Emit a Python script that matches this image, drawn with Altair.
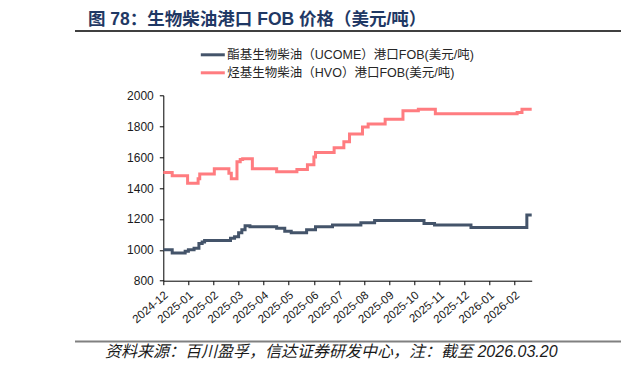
import altair as alt
import pandas as pd

# ---- series: change points of daily FOB port prices (USD/t) ----
ucome_dates = [
    "2024-12-20", "2024-12-31", "2025-01-16", "2025-01-20", "2025-01-27",
    "2025-02-02", "2025-02-06", "2025-02-09", "2025-03-13", "2025-03-18",
    "2025-03-23", "2025-03-27", "2025-03-31", "2025-04-06", "2025-05-09",
    "2025-05-19", "2025-05-27", "2025-06-15", "2025-06-26", "2025-07-17",
    "2025-08-21", "2025-09-07", "2025-11-07", "2025-11-20", "2026-01-04",
    "2026-03-14", "2026-03-20",
]
ucome_values = [
    1000, 980, 990, 1000, 1010,
    1040, 1050, 1060, 1075, 1085,
    1110, 1130, 1155, 1150, 1140,
    1120, 1110, 1130, 1150, 1160,
    1175, 1190, 1170, 1160, 1145,
    1225, 1225,
]

hvo_dates = [
    "2024-12-20", "2024-12-31", "2025-01-19", "2025-02-01", "2025-02-03",
    "2025-02-21", "2025-03-11", "2025-03-14", "2025-03-21", "2025-03-25",
    "2025-03-28", "2025-04-09", "2025-05-09", "2025-06-03", "2025-06-16",
    "2025-06-24", "2025-06-26", "2025-07-19", "2025-07-31", "2025-08-07",
    "2025-08-23", "2025-08-30", "2025-09-20", "2025-10-12", "2025-10-31",
    "2025-11-21", "2026-03-02", "2026-03-08", "2026-03-20",
]
hvo_values = [
    1500, 1480, 1430, 1460, 1490,
    1525, 1495, 1460, 1570, 1585,
    1590, 1525, 1505, 1520, 1550,
    1600, 1630, 1660, 1700, 1750,
    1795, 1815, 1845, 1900, 1910,
    1880, 1888, 1910, 1910,
]

series_names = [
    "酯基生物柴油（UCOME）港口FOB(美元/吨)",
    "烃基生物柴油（HVO）港口FOB(美元/吨)",
]
series_colors = ["#44546A", "#FF7C80"]

# x-axis tick dates (31-day spacing) and y ticks
x_ticks = [
    "2024-12-20", "2025-01-20", "2025-02-20", "2025-03-23", "2025-04-23",
    "2025-05-24", "2025-06-24", "2025-07-25", "2025-08-25", "2025-09-25",
    "2025-10-26", "2025-11-26", "2025-12-27", "2026-01-27", "2026-02-27",
]
x_domain = ["2024-12-20", "2026-03-20"]
y_ticks = [800, 1000, 1200, 1400, 1600, 1800, 2000]

title_text = "图 78：生物柴油港口 FOB 价格（美元/吨）"
source_text = "资料来源：百川盈孚，信达证券研发中心，注：截至 2026.03.20"

FONT = "Liberation Sans, Arial, Noto Sans CJK SC"


def to_dt(s):
    y, m, d = (int(p) for p in s.split("-"))
    return alt.DateTime(year=y, month=m, date=d, utc=True)


df = pd.concat([
    pd.DataFrame({"date": ucome_dates, "value": ucome_values, "series": series_names[0]}),
    pd.DataFrame({"date": hvo_dates, "value": hvo_values, "series": series_names[1]}),
], ignore_index=True)

W, H = 368.4, 185.4

lines = alt.Chart(df).mark_line(
    interpolate="step-after", strokeWidth=3, strokeJoin="miter"
).encode(
    x=alt.X(
        "date:T",
        scale=alt.Scale(type="utc", domain=[to_dt(d) for d in x_domain], nice=False),
        axis=alt.Axis(
            values=[to_dt(d) for d in x_ticks],
            labelExpr="utcFormat(datum.value, '%Y-%m')",
            title=None, labelAngle=320, labelAlign="right", labelBaseline="middle",
            labelPadding=9, labelOffset=3, tickSize=4, labelFontSize=11.5, grid=False,
            labelOverlap=False, labelBound=False, labelFlush=False,
        ),
    ),
    y=alt.Y(
        "value:Q",
        scale=alt.Scale(domain=[800, 2000], nice=False, zero=False),
        axis=alt.Axis(values=y_ticks, format="d", title=None, tickSize=4,
                      labelPadding=6, labelFontSize=12, grid=False),
    ),
    color=alt.Color(
        "series:N",
        scale=alt.Scale(domain=series_names, range=series_colors),
        legend=alt.Legend(
            orient="none", legendX=40, legendY=-50, title=None, direction="vertical",
            symbolType="M-1.5,0H1.5", symbolSize=256, symbolStrokeWidth=3,
            labelFontSize=12.5, labelFont=FONT, labelColor="#262626",
            labelLimit=500, rowPadding=2, labelOffset=5,
        ),
    ),
)

one = pd.DataFrame({"t": [0]})

title = alt.Chart(pd.DataFrame({"t": [title_text]})).mark_text(
    align="left", baseline="alphabetic", fontSize=17.5, fontWeight="bold",
    color="#1F3864", font=FONT,
).encode(text="t:N", x=alt.value(-75.3), y=alt.value(-70.3))

title_rule = alt.Chart(one).mark_rule(color="#000000", strokeWidth=1.5).encode(
    x=alt.value(-88.3), x2=alt.value(460), y=alt.value(-64.3)
)

source_rule = alt.Chart(one).mark_rule(color="#808080", strokeWidth=2).encode(
    x=alt.value(-88.3), x2=alt.value(460), y=alt.value(246.2)
)

source = alt.Chart(pd.DataFrame({"t": [source_text]})).mark_text(
    align="left", baseline="alphabetic", fontSize=16, fontStyle="italic",
    color="#1a1a1a", font=FONT,
).encode(text="t:N", x=alt.value(-58.3), y=alt.value(261.2))

chart = alt.layer(lines, title, title_rule, source_rule, source).properties(
    width=W, height=H,
    autosize=alt.AutoSizeParams(type="none"),
    padding={"left": 163.3, "top": 95.3, "right": 621 - 163.3 - W, "bottom": 371 - 95.3 - H},
    background="white",
).configure_view(stroke=None).configure_axis(
    domainColor="#000000", domainWidth=1, tickColor="#000000", tickWidth=1,
    labelColor="#1a1a1a", labelFont=FONT,
)

chart.save("out.html", embed_options={"renderer": "svg", "actions": False})
